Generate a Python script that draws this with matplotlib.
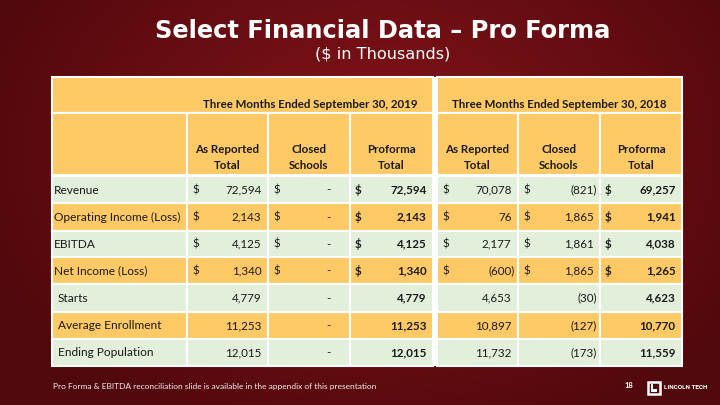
import numpy as np
import matplotlib
matplotlib.use("Agg")
import matplotlib.pyplot as plt
from matplotlib.patches import Rectangle

# ---- data ----
row_labels = ["Revenue", "Operating Income (Loss)", "EBITDA", "Net Income (Loss)",
              "Starts", "Average Enrollment", "Ending Population"]
period_titles = ["Three Months Ended September 30, 2019", "Three Months Ended September 30, 2018"]
col_titles = ["As Reported\nTotal", "Closed\nSchools", "Proforma\nTotal"]
reported_2019 = [72594, 2143, 4125, 1340, 4779, 11253, 12015]
closed_2019 = [0, 0, 0, 0, 0, 0, 0]
proforma_2019 = [72594, 2143, 4125, 1340, 4779, 11253, 12015]
reported_2018 = [70078, 76, 2177, -600, 4653, 10897, 11732]
closed_2018 = [-821, 1865, 1861, 1865, -30, -127, -173]
proforma_2018 = [69257, 1941, 4038, 1265, 4623, 10770, 11559]
dollar_rows = [True, True, True, True, False, False, False]
indented = [False, False, False, False, True, True, True]

GREEN = "#e2efda"
ORANGE = "#ffc966"
TXT = "#1a1a1a"
FONT = "Lato"

fig = plt.figure(figsize=(7.2, 4.05), dpi=100)
ax = fig.add_axes([0, 0, 1, 1])
ax.set_xlim(0, 720)
ax.set_ylim(405, 0)
ax.axis("off")

# background: dark red radial gradient
yy, xx = np.mgrid[0:405, 0:720]
d = np.sqrt(((xx - 380) / 430) ** 2 + ((yy - 150) / 320) ** 2)
d = np.clip(d, 0, 1)
inner = np.array([132, 20, 26]) / 255
outer = np.array([80, 8, 12]) / 255
bg = inner[None, None, :] * (1 - d[..., None]) + outer[None, None, :] * d[..., None]
ax.imshow(bg, extent=(0, 720, 405, 0), zorder=0, aspect="auto")

# titles
ax.text(383, 31, "Select Financial Data \u2013 Pro Forma", color="white", fontsize=17.4,
        fontweight="bold", ha="center", va="center", family="DejaVu Sans")
ax.text(383, 54, "($ in Thousands)", color="white", fontsize=11.6,
        ha="center", va="center", family="DejaVu Sans")

# table geometry
label_x = (52, 187)
sections = [(187, 268, 350, 433), (437, 518, 600, 682)]
head1 = (77, 113)
head2 = (113, 175)
row_edges = [176, 203, 230.5, 257, 284, 311.5, 339, 366]

def cell(x0, x1, y0, y1, color):
    ax.add_patch(Rectangle((x0, y0), x1 - x0, y1 - y0, facecolor=color,
                           edgecolor="white", linewidth=1.5, zorder=2))

# white gap between sections
ax.add_patch(Rectangle((431, 77), 8, 289, facecolor="white", edgecolor="none", zorder=1))

# header row 1
cell(label_x[0], sections[0][3], head1[0], head1[1], ORANGE)
cell(sections[1][0], sections[1][3], head1[0], head1[1], ORANGE)
for (c0, c1, c2, c3), t in zip(sections, period_titles):
    ax.text((c0 + c3) / 2, 104, t, fontsize=8.3, fontweight="bold", color=TXT,
            ha="center", va="center", family=FONT, zorder=3)

# header row 2
cell(label_x[0], label_x[1], head2[0], head2[1], ORANGE)
for sec in sections:
    for j in range(3):
        cell(sec[j], sec[j + 1], head2[0], head2[1], ORANGE)
        ax.text((sec[j] + sec[j + 1]) / 2, 157.5, col_titles[j], fontsize=8.3,
                fontweight="bold", color=TXT, ha="center", va="center",
                family=FONT, linespacing=1.5, zorder=3)

def fmt(v):
    if v == 0:
        return "-"
    if v < 0:
        return "({:,})".format(-v)
    return "{:,}".format(v)

columns = [reported_2019, closed_2019, proforma_2019, reported_2018, closed_2018, proforma_2018]

for i, lab in enumerate(row_labels):
    y0, y1 = row_edges[i], row_edges[i + 1]
    yc = (y0 + y1) / 2 + 0.5
    color = GREEN if i % 2 == 0 else ORANGE
    cell(label_x[0], label_x[1], y0, y1, color)
    ax.text(label_x[0] + (6 if indented[i] else 2), yc, lab, fontsize=8.6, color=TXT,
            ha="left", va="center", family=FONT, zorder=3)
    for k, vals in enumerate(columns):
        sec = sections[k // 3]
        j = k % 3
        x0, x1 = sec[j], sec[j + 1]
        cell(x0, x1, y0, y1, color)
        bold = "bold" if j == 2 else "normal"
        v = vals[i]
        if dollar_rows[i]:
            ax.text(x0 + 5, yc, "$", fontsize=8.4, fontweight=bold, color=TXT,
                    ha="left", va="center", family=FONT, zorder=3)
        if v == 0:
            xr = x1 - 19
        elif v < 0:
            xr = x1 - 3.5
        else:
            xr = x1 - 6.5
        ax.text(xr, yc, fmt(v), fontsize=8.4, fontweight=bold, color=TXT,
                ha="right", va="center", family=FONT, zorder=3)

# footer
ax.text(53, 386, "Pro Forma & EBITDA reconciliation slide is available in the appendix of this presentation",
        color="#eeeeee", fontsize=6.0, ha="left", va="center", family=FONT)
ax.text(633, 385, "18", color="white", fontsize=5.5, fontweight="bold",
        ha="right", va="center", family=FONT)
# logo
ax.add_patch(Rectangle((647.5, 381.5), 12, 12.5, facecolor="none", edgecolor="white",
                       linewidth=1.8, zorder=3))
ax.add_patch(Rectangle((650.5, 384), 2.5, 7.5, facecolor="white", edgecolor="none", zorder=3))
ax.add_patch(Rectangle((650.5, 389), 6.5, 2.5, facecolor="white", edgecolor="none", zorder=3))
ax.text(663.5, 387.5, "LINCOLN TECH", color="white", fontsize=4.6, fontweight="bold",
        ha="left", va="center", family="Roboto", zorder=3)

fig.savefig("out.png", dpi=100)
